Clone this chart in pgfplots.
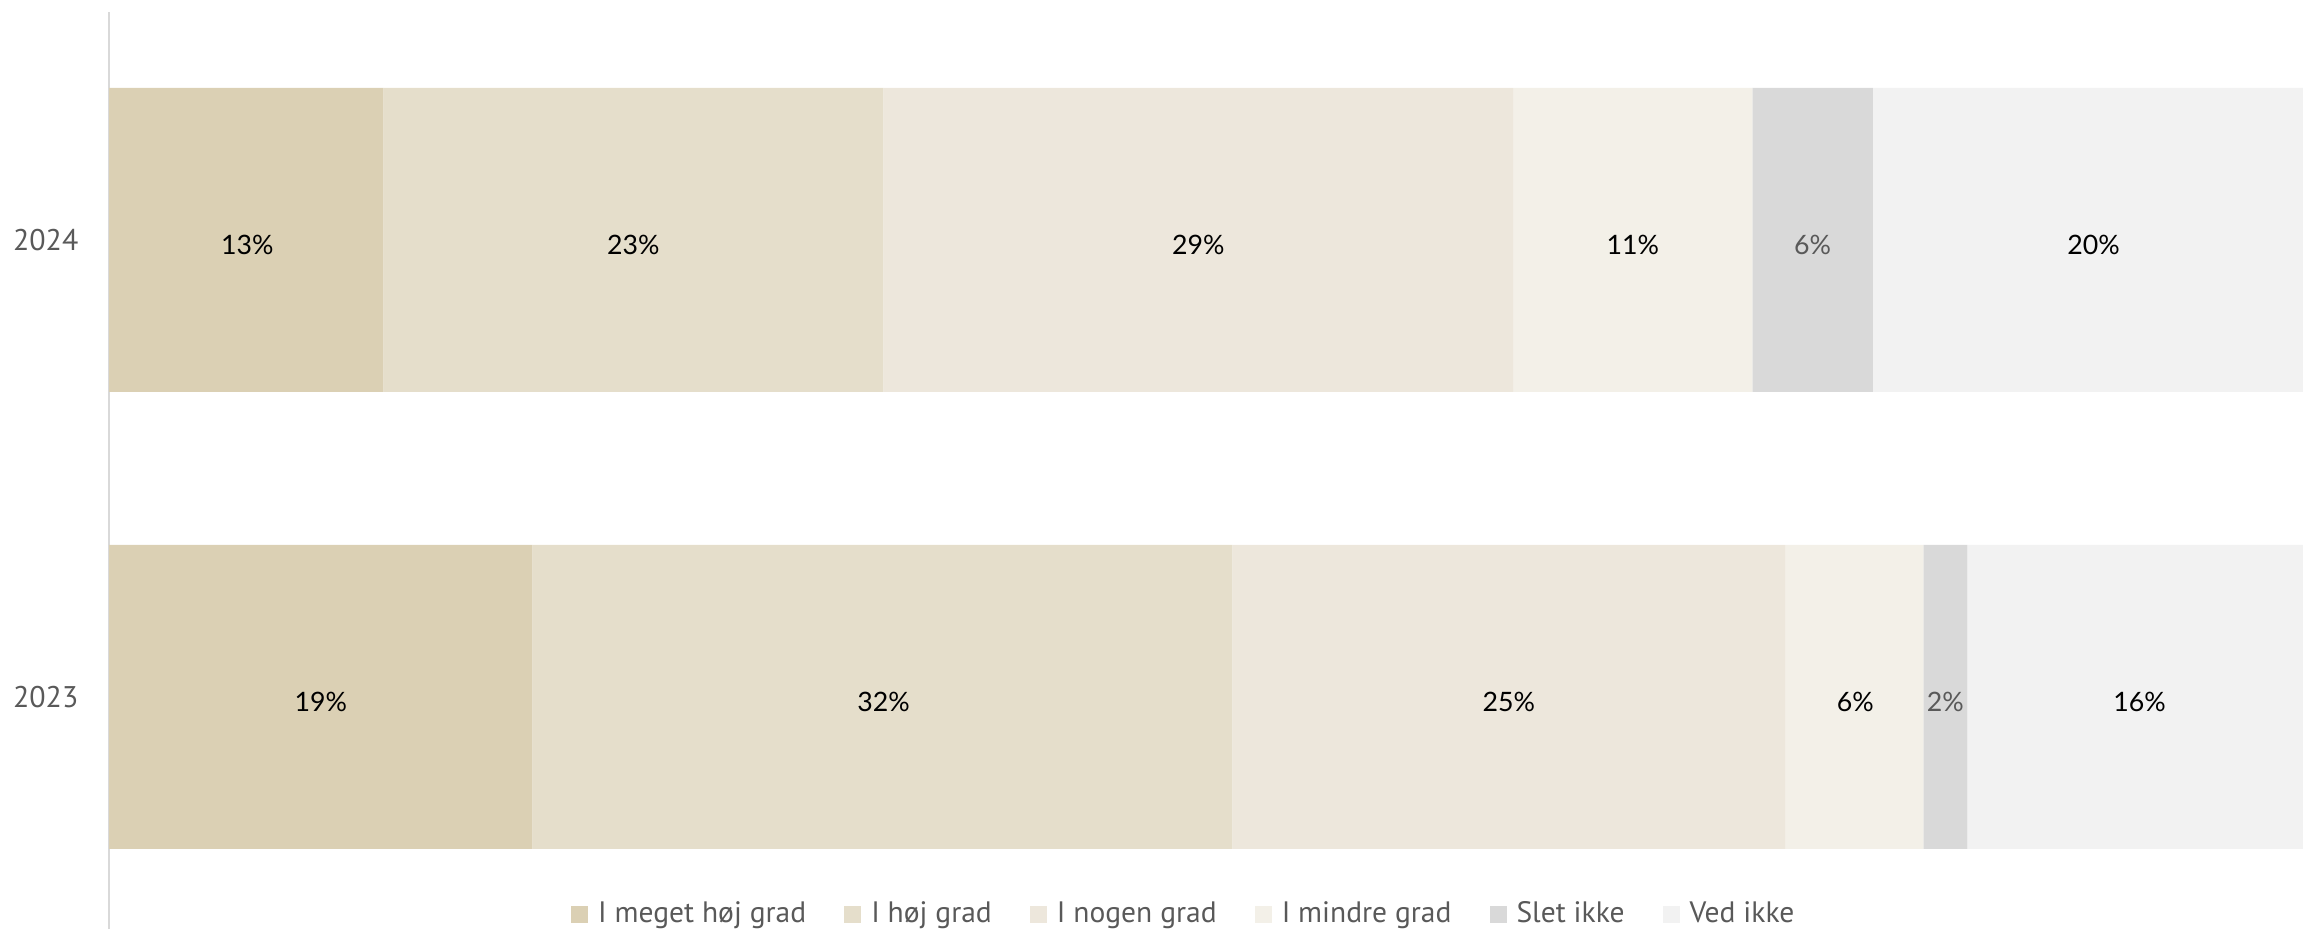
\documentclass[border=0pt]{standalone}
\usepackage{pgfplots}
\pgfplotsset{compat=1.18}
\usepackage{fontspec}
\setmainfont{PT Sans}
\newfontfamily\labfont{Lato}
\definecolor{c1}{HTML}{DBD0B4}
\definecolor{c2}{HTML}{E5DECB}
\definecolor{c3}{HTML}{EDE7DC}
\definecolor{c4}{HTML}{F3F0E8}
\definecolor{c5}{HTML}{D9D9D9}
\definecolor{c6}{HTML}{F2F2F2}
\definecolor{txtgray}{HTML}{595959}
\pgfplotsset{
  base/.style={
    at={(10.9mm,0mm)}, anchor=south west, scale only axis,
    width=219.4mm, height=91.7mm,
    xmin=0, xmax=100, ymin=-0.508, ymax=1.499,
    bar width=30.4mm,
  },
  sq/.style={fill=#1, draw=none,
    legend image code/.code={\fill[#1] (0mm,-0.85mm) rectangle (1.7mm,0.85mm);}},
  lab/.style={draw=none, mark=none, nodes near coords, point meta=explicit symbolic,
    every node near coord/.append style={anchor=center, yshift=-0.5mm, font=\labfont\fontsize{7.6}{9}\selectfont, text=#1}},
}
\begin{document}
\begin{tikzpicture}
\useasboundingbox (0,0) rectangle (230.3mm,92.9mm);
\begin{axis}[base, xbar stacked,
  axis x line=none, axis y line*=left,
  y axis line style={draw=c5, line width=0.2mm, -},
  ytick={0,1}, yticklabels={2023,2024}, major tick length=0pt,
  yticklabel style={font=\fontsize{8.5}{10}\selectfont, text=txtgray, inner sep=0pt, xshift=-3mm},
  legend style={draw=none, fill=none, at={(0.491,0.0155)}, anchor=center,
    legend columns=6, font=\fontsize{8.4}{10}\selectfont, text=txtgray,
    /tikz/every even column/.append style={column sep=3.1mm},
    /tikz/every odd column/.append style={column sep=0.3mm}},
  legend cell align=left,
]
\addplot[sq=c1] coordinates {(12.5,1) (19.3,0)};
\addplot[sq=c2] coordinates {(22.8,1) (31.9,0)};
\addplot[sq=c3] coordinates {(28.7,1) (25.2,0)};
\addplot[sq=c4] coordinates {(10.9,1) (6.3,0)};
\addplot[sq=c5] coordinates {(5.5,1) (2.0,0)};
\addplot[sq=c6] coordinates {(19.6,1) (15.3,0)};
\legend{I meget høj grad, I høj grad, I nogen grad, I mindre grad, Slet ikke, Ved ikke}
\end{axis}
\begin{axis}[base, hide axis]
\addplot[lab=black] coordinates {(6.3,1)[13\%] (9.65,0)[19\%]};
\addplot[lab=black] coordinates {(23.9,1)[23\%] (35.3,0)[32\%]};
\addplot[lab=black] coordinates {(49.65,1)[29\%] (63.8,0)[25\%]};
\addplot[lab=black] coordinates {(69.45,1)[11\%] (79.6,0)[6\%]};
\addplot[lab=txtgray] coordinates {(77.65,1)[6\%] (83.7,0)[2\%]};
\addplot[lab=black] coordinates {(90.45,1)[20\%] (92.55,0)[16\%]};
\end{axis}
\end{tikzpicture}
\end{document}
